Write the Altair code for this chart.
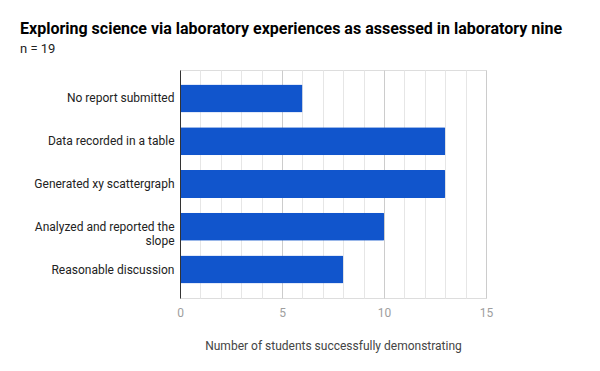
import altair as alt
import pandas as pd

categories = ["No report submitted", "Data recorded in a table", "Generated xy scattergraph",
              "Analyzed and reported the|slope", "Reasonable discussion"]
values = [6, 13, 13, 10, 8]
major_step = 5
grid_ticks = list(range(0, 16))

df = pd.DataFrame({"cat": categories, "val": values})

FONT = "Roboto"
XTITLE = "Number of students successfully demonstrating"
xscale = alt.Scale(domain=[0, 15], nice=False, zero=True)
xaxis = alt.Axis(title=XTITLE,
                 values=grid_ticks, grid=True, domain=False, ticks=False, orient="bottom",
                 gridColor={"condition": {"test": f"datum.value % {major_step} === 0", "value": "#cccccc"},
                            "value": "#e6e6e6"},
                 gridWidth=1,
                 labelExpr=f"datum.value % {major_step} === 0 ? datum.label : ''",
                 labelFlush=False,
                 labelFont=FONT, labelFontSize=12, labelColor="#9e9e9e",
                 labelPadding=9, titleFont=FONT, titleFontSize=12,
                 titleFontWeight="normal", titleColor="#444444", titlePadding=22)

bars = alt.Chart(df).mark_bar(color="#1155cc", cornerRadius=1).encode(
    x=alt.X("val:Q", scale=xscale, axis=xaxis, title=XTITLE),
    y=alt.Y("cat:N", sort=categories,
            scale=alt.Scale(paddingInner=0.346, paddingOuter=0.336),
            axis=alt.Axis(title=None, domain=True, domainColor="#333333", ticks=False,
                          zindex=1, grid=False,
                          labelFont=FONT, labelFontSize=12, labelColor="#222222",
                          labelPadding=6, labelLimit=200,
                          labelExpr="split(datum.label, '|')")),
)

chart = bars.properties(
    width=306, height=228,
    padding={"left": 172, "top": 62, "right": 106, "bottom": 65},
    autosize=alt.AutoSizeParams(type="none"),
    title=alt.TitleParams(text="Exploring science via laboratory experiences as assessed in laboratory nine",
                          subtitle="n = 19", anchor="start", frame="group", dx=-160,
                          font=FONT, fontSize=16, fontWeight="bold", color="#000000",
                          subtitleFont=FONT, subtitleFontSize=13, subtitleColor="#222222",
                          subtitlePadding=6, offset=14, limit=600),
).configure_view(stroke=None).configure(background="white")

chart.save("out.html", embed_options={"renderer": "svg", "actions": False})
